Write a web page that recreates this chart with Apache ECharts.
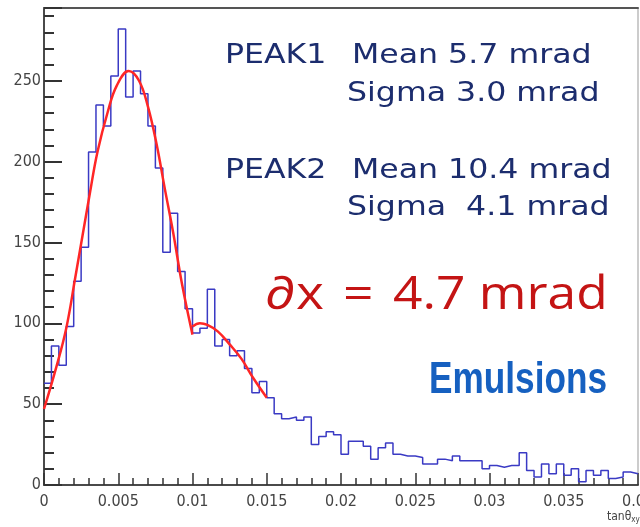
<!DOCTYPE html>
<html>
<head>
<meta charset="utf-8">
<script src="https://cdn.jsdelivr.net/npm/echarts@6/dist/echarts.min.js"></script>
<style>html,body{margin:0;padding:0;background:#fff}#c{width:640px;height:527px}</style>
</head>
<body>
<div id="c"></div>
<script>
// ---- data ----
const binStart = 0;
const binWidth = 0.0005;
const counts = [63, 86, 74, 98, 126, 147, 206, 235, 222, 253,
  282, 240, 256, 242, 222, 196, 144, 168, 132, 109,
  94, 97, 121, 86, 90, 80, 83, 72, 57, 64,
  54, 44, 41, 42, 40, 42, 25, 30, 33, 31,
  19, 27, 27, 24, 16, 23, 26, 19, 18, 18,
  17, 13, 13, 16, 15, 18, 15, 15, 15, 10,
  12, 11, 12, 12, 20, 9, 5, 13, 7, 13,
  6, 10, 2, 9, 6, 9, 4, 5, 8, 7];
const fit1 = [[0, 47], [0.0008, 72], [0.0015, 97], [0.0021, 128], [0.0031, 181], [0.0036, 206],
  [0.0043, 231], [0.0049, 247], [0.0057, 256], [0.0064, 250], [0.0070, 234], [0.0076, 210],
  [0.0081, 185], [0.0087, 156], [0.0093, 124], [0.0100, 93]];
const fit2 = [[0.0100, 98], [0.0105, 100], [0.0110, 99], [0.0117, 95], [0.0125, 87],
  [0.0133, 78], [0.0141, 66], [0.0150, 54]];
const xTicks = ['0', '0.005', '0.01', '0.015', '0.02', '0.025', '0.03', '0.035', '0.04'];
const yTicks = [0, 50, 100, 150, 200, 250];
const notes = {
  peak1: 'PEAK1', mean1: 'Mean 5.7 mrad', sigma1: 'Sigma 3.0 mrad',
  peak2: 'PEAK2', mean2: 'Mean 10.4 mrad', sigma2: 'Sigma  4.1 mrad',
  dxA: '∂x', dxB: '=', dxC: '4.7 mrad', emul: 'Emulsions'
};

// ---- build ----
const histData = counts.map((c, i) => [binStart + i * binWidth, c]);
histData.push([binStart + counts.length * binWidth, counts[counts.length - 1]]);

const labelFont = "'Liberation Sans Narrow','DejaVu Sans Condensed','Liberation Sans',sans-serif";
const chart = echarts.init(document.getElementById('c'), null, {renderer: 'canvas'});
const gridRect = {left: 44, right: 2, top: 8, bottom: 42, outerBoundsMode: 'none', containLabel: false};
const navy = '#1c2d6e';
const noteFont = "27px 'DejaVu Sans', Verdana, sans-serif";
const dxFont = "46px 'Open Sans', sans-serif";
const red = '#c41414';

function txt(x, y, text, font, fill, sx) {
  return {type: 'text', x: x, y: y, scaleX: sx, z: 10,
    style: {text: text, font: font, fill: fill, textAlign: 'left', textVerticalAlign: 'middle'}};
}

const option = {
  animation: false,
  backgroundColor: '#ffffff',
  grid: [
    Object.assign({show: true, borderColor: '#999', borderWidth: 1}, gridRect),
    Object.assign({show: false}, gridRect)
  ],
  xAxis: [
    {type: 'value', gridIndex: 0, min: 0, max: 0.04, interval: 0.005, position: 'bottom',
      axisLine: {show: true, onZero: false, lineStyle: {color: '#4a4a4a', width: 2}},
      axisTick: {show: true, inside: true, length: 12, lineStyle: {color: '#333', width: 1.5}},
      minorTick: {show: true, splitNumber: 5, length: 7, lineStyle: {color: '#333', width: 1.5}},
      axisLabel: {color: '#444', fontSize: 16, fontFamily: labelFont, margin: 9, hideOverlap: false,
        formatter: (v) => { const i = Math.round(v / 0.005); return xTicks[i] !== undefined ? xTicks[i] : ''; }},
      splitLine: {show: false}, minorSplitLine: {show: false}},
    {type: 'value', gridIndex: 0, min: 0, max: 0.04, position: 'top',
      axisLine: {show: true, onZero: false, lineStyle: {color: '#555', width: 2}},
      axisTick: {show: false}, axisLabel: {show: false}, splitLine: {show: false}},
    {type: 'value', gridIndex: 1, min: 0, max: 0.04, show: false}
  ],
  yAxis: [
    {type: 'value', gridIndex: 0, min: 0, max: 295, interval: 50, position: 'left',
      axisLine: {show: true, onZero: false, lineStyle: {color: '#4a4a4a', width: 2}},
      axisTick: {show: true, inside: true, length: 18, lineStyle: {color: '#333', width: 2}},
      axisLabel: {color: '#444', fontSize: 16, fontFamily: labelFont, margin: 3,
        formatter: (v) => yTicks.indexOf(Math.round(v)) >= 0 && Math.abs(v - Math.round(v)) < 1e-6 ? String(Math.round(v)) : ''},
      splitLine: {show: false}},
    {type: 'value', gridIndex: 1, min: 0, max: 295, interval: 10, position: 'left',
      axisLine: {show: false},
      axisTick: {show: true, inside: true, length: 10, lineStyle: {color: '#333', width: 2}},
      axisLabel: {show: false}, splitLine: {show: false}}
  ],
  series: [
    {type: 'line', name: 'hist', xAxisIndex: 0, yAxisIndex: 0, data: histData, step: 'end',
      showSymbol: false, symbol: 'none', lineStyle: {color: '#3a3ac4', width: 1.5}, z: 3},
    {type: 'line', name: 'fit1', xAxisIndex: 0, yAxisIndex: 0, data: fit1, smooth: 0.4,
      showSymbol: false, symbol: 'none', lineStyle: {color: '#ff2626', width: 2.5}, z: 4},
    {type: 'line', name: 'fit2', xAxisIndex: 0, yAxisIndex: 0, data: fit2, smooth: 0.4,
      showSymbol: false, symbol: 'none', lineStyle: {color: '#ff2626', width: 2.5}, z: 4},
    {type: 'line', xAxisIndex: 2, yAxisIndex: 1, data: [], silent: true}
  ],
  graphic: [
    txt(225, 56, notes.peak1, noteFont, navy, 1.17),
    txt(352, 56, notes.mean1, noteFont, navy, 1.17),
    txt(347, 94, notes.sigma1, noteFont, navy, 1.17),
    txt(225, 171, notes.peak2, noteFont, navy, 1.17),
    txt(352, 171, notes.mean2, noteFont, navy, 1.17),
    txt(347, 208, notes.sigma2, noteFont, navy, 1.17),
    txt(265, 296, notes.dxA, dxFont, red, 1.16),
    txt(343, 296, notes.dxB, dxFont, red, 1.16),
    txt(393, 296, notes.dxC, dxFont, red, 1.12),
    txt(429, 381, notes.emul, "bold 44px 'Liberation Sans', sans-serif", '#1660c0', 0.8),
    {type: 'text', x: 607, y: 517, z: 10,
      style: {text: 'tanθ{s|xy}', font: "12px " + labelFont, fill: '#444', textAlign: 'left', textVerticalAlign: 'middle',
        rich: {s: {fontSize: 8, fontFamily: labelFont, fill: '#444', verticalAlign: 'bottom', padding: [6, 0, 0, 0]}}}}
  ]
};
chart.setOption(option);
</script>
</body>
</html>
